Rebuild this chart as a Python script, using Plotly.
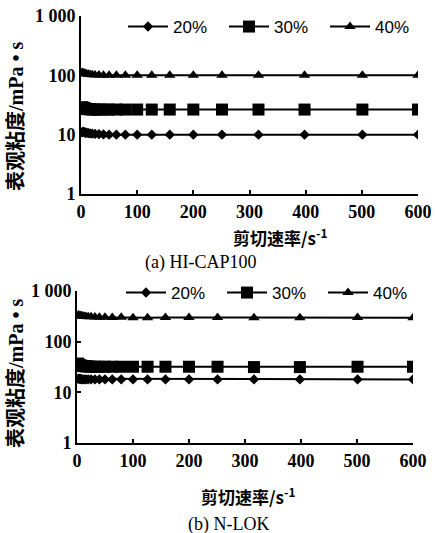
import plotly.graph_objects as go

# Shear rate (s^-1)
shear_rate = [2, 4, 6, 8, 10, 13, 16, 20, 25, 32, 40, 50, 63, 79, 100, 126, 158, 200, 251, 316, 398, 501, 600]

# (a) HI-CAP100 apparent viscosity (mPa·s)
a_20 = [11.0, 11.2, 11.0, 10.8, 10.8, 10.6, 10.5, 10.4, 10.3, 10.2, 10.1, 10.0, 10.0, 10.0, 10.0, 10.0, 10.0, 10.0, 10.0, 10.0, 10.0, 10.0, 10.0]
a_30 = [29.0, 28.5, 28.0, 27.5, 27.0, 27.0, 26.8, 26.5, 26.5, 26.5, 26.5, 26.5, 26.5, 26.5, 26.5, 26.5, 26.5, 26.5, 26.5, 26.5, 26.5, 26.5, 26.5]
a_40 = [112, 110, 108, 106, 105, 104, 103, 102, 101, 101, 100, 100, 100, 100, 100, 100, 100, 100, 100, 100, 100, 100, 100]

# (b) N-LOK apparent viscosity (mPa·s)
b_20 = [18.5, 18.5, 18.3, 18.2, 18.0, 18.0, 18.0, 18.0, 18.0, 18.0, 18.0, 18.0, 18.0, 18.0, 18.0, 18.0, 18.0, 18.0, 18.0, 18.0, 18.0, 18.0, 18.0]
b_30 = [37, 35, 34, 33.5, 33, 33, 32.5, 32.5, 32, 32, 32, 32, 32, 32, 32, 32, 32, 32, 32, 31.5, 31.5, 32, 32]
b_40 = [335, 330, 325, 320, 320, 315, 315, 312, 310, 308, 305, 302, 300, 302, 298, 298, 300, 300, 300, 298, 298, 300, 298]

series_names = ["20%", "30%", "40%"]
symbols = ["diamond", "square", "triangle-up"]
sizes = [8, 12, 10]

y_tickvals = [1, 10, 100, 1000]
y_ticktext = ["1", "10", "100", "1 000"]
x_tickvals = [0, 100, 200, 300, 400, 500, 600]

x_title = "剪切速率/s<sup>-1</sup>"
y_title = "表观粘度/mPa • s"
captions = ["(a) HI-CAP100", "(b) N-LOK"]

W, H = 435, 533

def px_x(p):
    return p / W

def px_y(p):
    return 1 - p / H

fig = go.Figure()

panels = [
    (a_20, a_30, a_40, "x", "y", "legend"),
    (b_20, b_30, b_40, "x2", "y2", "legend2"),
]
for vals_set in panels:
    s20, s30, s40, xa, ya, lg = vals_set
    for name, vals, sym, sz in zip(series_names, [s20, s30, s40], symbols, sizes):
        fig.add_trace(go.Scatter(
            x=shear_rate, y=vals, name=name, mode="lines+markers",
            line=dict(color="black", width=2),
            marker=dict(symbol=sym, size=sz, color="black"),
            xaxis=xa, yaxis=ya, legend=lg,
        ))

tickfont = dict(family="Liberation Serif", size=18, color="black", weight="bold")
cjk_font = dict(family="Noto Sans CJK SC", size=17, color="black", weight="bold")
ytitle_font = dict(family="Liberation Serif, Noto Sans CJK SC", size=20, color="black", weight="bold")
legend_font = dict(family="Liberation Sans", size=17, color="black")
cap_font = dict(family="Liberation Serif", size=18, color="black")

xaxis_common = dict(
    range=[0, 600], tickvals=x_tickvals, ticks="inside", ticklen=4, tickwidth=1.5,
    tickcolor="black", showline=True, linecolor="black", linewidth=2,
    showgrid=False, zeroline=False, tickfont=tickfont, automargin=False,
)
yaxis_common = dict(
    type="log", range=[0, 3], tickvals=y_tickvals, ticktext=y_ticktext,
    ticks="inside", ticklen=4, tickwidth=1.5, tickcolor="black",
    showline=True, linecolor="black", linewidth=2, showgrid=False,
    zeroline=False, tickfont=tickfont, automargin=False,
)

fig.update_layout(
    width=W, height=H,
    margin=dict(l=0, r=0, t=0, b=0, autoexpand=False),
    paper_bgcolor="white", plot_bgcolor="white",
    showlegend=True,
    xaxis=dict(domain=[px_x(81), px_x(418)], anchor="y", **xaxis_common),
    yaxis=dict(domain=[px_y(194), px_y(16)], anchor="x", **yaxis_common),
    xaxis2=dict(domain=[px_x(77), px_x(413)], anchor="y2", **xaxis_common),
    yaxis2=dict(domain=[px_y(443), px_y(291)], anchor="x2", **yaxis_common),
    legend=dict(
        orientation="h", x=px_x(123), y=px_y(9), xanchor="left", yanchor="top",
        font=legend_font, bgcolor="rgba(0,0,0,0)", itemwidth=40, tracegroupgap=0,
        entrywidth=46, entrywidthmode="pixels",
    ),
    legend2=dict(
        orientation="h", x=px_x(121), y=px_y(275), xanchor="left", yanchor="top",
        font=legend_font, bgcolor="rgba(0,0,0,0)", itemwidth=40, tracegroupgap=0,
        entrywidth=46, entrywidthmode="pixels",
    ),
)

annotations = [
    dict(text=x_title, x=px_x(280), y=px_y(237), xref="paper", yref="paper",
         showarrow=False, font=cjk_font, xanchor="center", yanchor="middle"),
    dict(text=captions[0], x=px_x(200), y=px_y(262), xref="paper", yref="paper",
         showarrow=False, font=cap_font, xanchor="center", yanchor="middle"),
    dict(text=y_title, x=px_x(16), y=px_y(117), xref="paper", yref="paper",
         showarrow=False, font=ytitle_font, textangle=-90,
         xanchor="center", yanchor="middle"),
    dict(text=x_title, x=px_x(248), y=px_y(496), xref="paper", yref="paper",
         showarrow=False, font=cjk_font, xanchor="center", yanchor="middle"),
    dict(text=captions[1], x=px_x(228), y=px_y(524), xref="paper", yref="paper",
         showarrow=False, font=cap_font, xanchor="center", yanchor="middle"),
    dict(text=y_title, x=px_x(16), y=px_y(374), xref="paper", yref="paper",
         showarrow=False, font=ytitle_font, textangle=-90,
         xanchor="center", yanchor="middle"),
]
fig.update_layout(annotations=annotations)

fig.write_html(
    "out.html",
    config={"displayModeBar": False},
    post_script="document.body.style.margin='0';document.body.style.overflow='hidden';",
)
